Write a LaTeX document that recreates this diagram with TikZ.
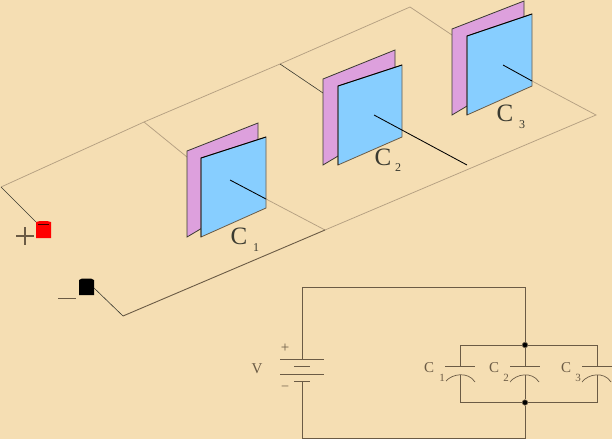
\documentclass[tikz,border=0pt]{standalone}
\usepackage{fontspec}
\setmainfont{Liberation Serif}
\definecolor{bg}{HTML}{F5DEB3}
\definecolor{plumc}{HTML}{DDA0DD}
\definecolor{bluec}{HTML}{87CEFF}
\definecolor{wire}{HTML}{6B5B45}
\definecolor{tan1}{HTML}{B5A082}
\definecolor{dk}{HTML}{3A3A30}
\tikzset{
  x=1pt,y=-1pt,
  pale/.style={draw=tan1,line width=0.75pt},
  darkw/.style={draw=dk,line width=0.6pt},
  lead/.style={draw=black,line width=0.85pt},
  ckt/.style={draw=wire,line width=1pt},
  plum plate/.style={fill=plumc,draw=dk,line width=0.8pt,line join=miter},
  blue plate/.style={fill=bluec,draw=wire,line width=0.8pt,line join=miter},
  blue edge/.style={draw=black,line width=0.9pt,line join=miter},
  biglab/.style={font=\fontsize{25}{25}\selectfont,text=dk,inner sep=0pt},
  bigsub/.style={font=\fontsize{12}{12}\selectfont,text=dk,inner sep=0pt},
  smalllab/.style={font=\fontsize{15}{15}\selectfont,text=wire,inner sep=0pt},
  smallsub/.style={font=\fontsize{11}{11}\selectfont,text=wire,inner sep=0pt},
  dotn/.style={circle,fill=black,draw=wire,line width=0.6pt,inner sep=0pt,minimum size=5.5pt},
  arcplate/.style={draw=wire,line width=0.7pt},
}
\begin{document}
\begin{tikzpicture}
\useasboundingbox[fill=bg] (0,0) rectangle (612,439);
% rails
\coordinate (A) at (1,187);
\coordinate (T1) at (144,122);
\coordinate (T2) at (280,64);
\coordinate (T3) at (410,7);
\coordinate (R) at (596,115);
\coordinate (B) at (123,316);
\coordinate (J) at (325,230);
\coordinate (P1) at (187,157);
\coordinate (P2) at (323,93);
\coordinate (P3) at (452,35);
\coordinate (L1a) at (230,180);
\coordinate (L1b) at (266,199);
\coordinate (L2a) at (374,115);
\coordinate (L2c) at (467,165);
\coordinate (L3a) at (503,65);
\coordinate (L3b) at (532,81);
\draw[pale] (A) -- (T1) -- (T2) -- (T3) -- (P3);
\draw[pale] (T1) -- (P1);
\draw[darkw] (T2) -- (P2);
\draw[pale] (L1b) -- (J);
\draw[pale] (L3b) -- (R) -- (J);
\draw[draw=wire,line width=0.9pt] (B) -- (J);
% plates C1
\draw[plum plate] (187,151) -- (258,123) -- (258,195) -- (187,237) -- cycle;
\draw[blue plate] (201,158) -- (266,137) -- (266,208) -- (201,237) -- cycle;
\draw[blue edge] (201,237) -- (201,158) -- (266,137);
\draw[lead] (L1a) -- (L1b);
% plates C2
\draw[plum plate] (323,79) -- (395,50) -- (395,122) -- (323,165) -- cycle;
\draw[blue plate] (338,86) -- (402,65) -- (402,137) -- (338,165) -- cycle;
\draw[blue edge] (338,165) -- (338,86) -- (402,65);
\draw[lead] (L2a) -- (L2c);
% plates C3
\draw[plum plate] (452,29) -- (524,1) -- (524,72) -- (452,115) -- cycle;
\draw[blue plate] (467,36) -- (532,14) -- (532,86) -- (467,115) -- cycle;
\draw[blue edge] (467,115) -- (467,36) -- (532,14);
\draw[lead] (L3a) -- (L3b);
% labels 3D
\node[biglab] (c1) at (239,236) {C};
\node[bigsub] (c1s) at (256,248) {1};
\node[biglab] (c2) at (383,157) {C};
\node[bigsub] (c2s) at (398,168) {2};
\node[biglab] (c3) at (505,113) {C};
\node[bigsub] (c3s) at (522,125) {3};
% terminals
\fill[red] (36,238) -- (36,222) -- (40,221) -- (47,221) -- (51,222) -- (51,238) -- cycle;
\draw[draw=black!75!red,line width=0.5pt] (38,224.5) -- (49,224.5);
\fill[black] (79,295) -- (79,280) -- (82,278.5) -- (91,278.5) -- (94,280) -- (94,295) -- cycle;
\coordinate (redT) at (36,222);
\coordinate (blackT) at (94,288);
\draw[darkw] (A) -- (redT);
\draw[darkw] (blackT) -- (B);
\draw[draw=wire,line width=1.3pt] (16,236) -- (34,236) (25,227) -- (25,245);
\draw[draw=wire,line width=0.9pt] (58,298) -- (76,298);
% circuit
\coordinate (Bt) at (302,359.5);
\coordinate (Bb) at (302,381);
\coordinate (TL) at (302,287);
\coordinate (TR) at (525,287);
\coordinate (BL) at (302,438);
\coordinate (BR) at (525,438);
\node[dotn] (N1) at (525,345) {};
\node[dotn] (N2) at (525,402.5) {};
\draw[ckt] (Bt) -- (TL) -- (TR) -- (N1);
\draw[ckt] (Bb) -- (BL) -- (BR) -- (N2);
\draw[ckt] (280,359.5) -- (324,359.5);
\draw[ckt] (294,366.5) -- (310,366.5);
\draw[ckt] (280,374) -- (324,374);
\draw[ckt] (294,381) -- (310,381);
\draw[ckt] (N1) -- (460,345) -- (460,366);
\draw[ckt] (N1) -- (597,345) -- (597,366);
\draw[ckt] (N1) -- (525,366);
\draw[ckt] (460,374.5) -- (460,402.5) -- (N2);
\draw[ckt] (597,374.5) -- (597,402.5) -- (N2);
\draw[ckt] (525,374.5) -- (N2);
\draw[ckt] (445,366) -- (475,366);
\draw[ckt] (510,366) -- (540,366);
\draw[ckt] (582,366) -- (612,366);
\draw[arcplate] (446,381) .. controls (452,374) and (468,371) .. (475,382);
\draw[arcplate] (510,382) .. controls (516,374) and (532,371) .. (539,382);
\draw[arcplate] (582,382) .. controls (588,374) and (604,371) .. (611,382);
\node[smalllab] (v) at (257,368.5) {V};
\node[smalllab] (pl) at (285,348) {+};
\node[smalllab] (mi) at (285,388) {\fontsize{13}{13}\selectfont –};
\node[smalllab] (k1) at (429,368) {C};
\node[smallsub] (k1s) at (442,378) {1};
\node[smalllab] (k2) at (494,368) {C};
\node[smallsub] (k2s) at (506,378) {2};
\node[smalllab] (k3) at (566,368) {C};
\node[smallsub] (k3s) at (578,378) {3};
\end{tikzpicture}
\end{document}
